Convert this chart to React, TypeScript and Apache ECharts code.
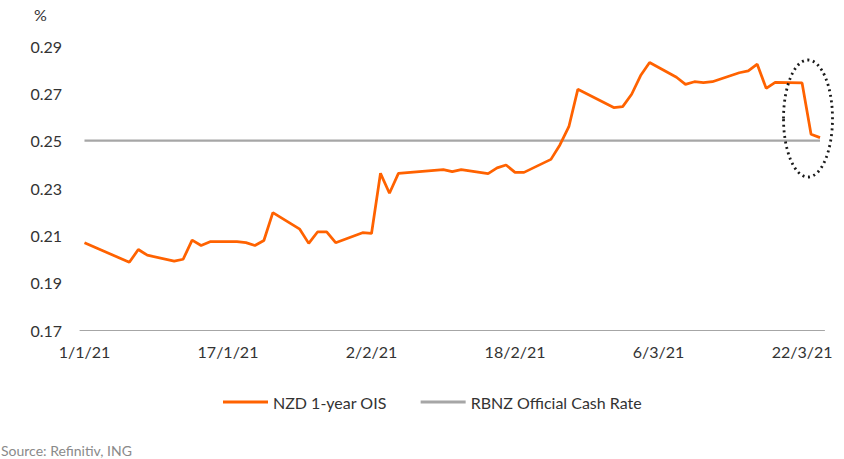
import React, { useEffect, useRef } from "react";
import * as echarts from "echarts";

// Calendar span of the x axis (daily categories)
const START_DATE = "2021-01-01";
const END_DATE = "2021-03-24";

// NZD 1-year OIS observations (business days)
const OIS_DATES = [
  "2021-01-01", "2021-01-06", "2021-01-07", "2021-01-08", "2021-01-11", "2021-01-12",
  "2021-01-13", "2021-01-14", "2021-01-15", "2021-01-18", "2021-01-19", "2021-01-20",
  "2021-01-21", "2021-01-22", "2021-01-25", "2021-01-26", "2021-01-27", "2021-01-28",
  "2021-01-29", "2021-02-01", "2021-02-02", "2021-02-03", "2021-02-04", "2021-02-05",
  "2021-02-10", "2021-02-11", "2021-02-12", "2021-02-15", "2021-02-16", "2021-02-17",
  "2021-02-18", "2021-02-19", "2021-02-22", "2021-02-23", "2021-02-24", "2021-02-25",
  "2021-03-01", "2021-03-02", "2021-03-03", "2021-03-04", "2021-03-05", "2021-03-08",
  "2021-03-09", "2021-03-10", "2021-03-11", "2021-03-12", "2021-03-15", "2021-03-16",
  "2021-03-17", "2021-03-18", "2021-03-19", "2021-03-22", "2021-03-23", "2021-03-24",
];
const OIS_VALUES = [
  0.2069, 0.1986, 0.204, 0.2016, 0.1991, 0.1999,
  0.208, 0.2057, 0.2073, 0.2073, 0.2069, 0.2057,
  0.2078, 0.2196, 0.2126, 0.2066, 0.2115, 0.2115,
  0.2069, 0.2111, 0.2108, 0.2362, 0.2278, 0.2362,
  0.2378, 0.2369, 0.2378, 0.2361, 0.2385, 0.2397,
  0.2366, 0.2366, 0.2421, 0.2482, 0.2559, 0.2717,
  0.264, 0.2644, 0.2696, 0.2775, 0.283, 0.2768,
  0.2738, 0.2749, 0.2745, 0.2749, 0.2787, 0.2795,
  0.2823, 0.2721, 0.2746, 0.2744, 0.2527, 0.2513,
];

// RBNZ Official Cash Rate (constant over the period)
const OCR_VALUE = 0.25;

// Y axis ticks
const Y_MIN = 0.17;
const Y_MAX = 0.29;
const Y_STEP = 0.02;

const SERIES_NAMES = ["NZD 1-year OIS", "RBNZ Official Cash Rate"];
const SOURCE_TEXT = "Source: Refinitiv, ING";

const FONT = "Lato, 'Open Sans', sans-serif";

function buildDays(): { keys: string[]; labels: string[] } {
  const keys: string[] = [];
  const labels: string[] = [];
  const s = new Date(START_DATE + "T00:00:00Z").getTime();
  const e = new Date(END_DATE + "T00:00:00Z").getTime();
  for (let t = s; t <= e; t += 86400000) {
    const d = new Date(t);
    const iso = d.toISOString().slice(0, 10);
    keys.push(iso);
    labels.push(
      `${d.getUTCDate()}/${d.getUTCMonth() + 1}/${String(d.getUTCFullYear()).slice(2)}`
    );
  }
  return { keys, labels };
}

export default function App() {
  const ref = useRef<HTMLDivElement>(null);

  useEffect(() => {
    if (!ref.current) return;
    const chart = echarts.init(ref.current, undefined, { renderer: "svg" });
    const { keys, labels } = buildDays();
    const oisMap: Record<string, number> = {};
    OIS_DATES.forEach((d, i) => (oisMap[d] = OIS_VALUES[i]));
    const oisData = keys.map((k) => (k in oisMap ? oisMap[k] : null));
    const ocrData = keys.map(() => OCR_VALUE);

    chart.setOption({
      animation: false,
      backgroundColor: "#ffffff",
      textStyle: { fontFamily: FONT },
      grid: { left: 80, right: 19.5, top: 46, bottom: 129 },
      legend: {
        left: 218,
        top: 389,
        icon: "rect",
        itemWidth: 45,
        itemHeight: 3,
        itemGap: 34,
        textStyle: { fontSize: 16, color: "#333333", fontFamily: FONT },
        data: SERIES_NAMES,
      },
      xAxis: {
        type: "category",
        data: labels,
        boundaryGap: true,
        axisLine: { lineStyle: { color: "#a6a6a6", width: 1 } },
        axisTick: {
          interval: 15,
          length: 6,
          lineStyle: { color: "#a6a6a6" },
        },
        axisLabel: {
          interval: 15,
          fontSize: 16,
          color: "#333333",
          margin: 13,
          fontFamily: FONT,
        },
        splitLine: { show: false },
      },
      yAxis: {
        type: "value",
        min: Y_MIN,
        max: Y_MAX,
        interval: Y_STEP,
        axisLine: { show: false },
        axisTick: { show: false },
        splitLine: { show: false },
        axisLabel: {
          fontSize: 16,
          color: "#333333",
          margin: 18,
          fontFamily: FONT,
          formatter: (v: number) => v.toFixed(2),
        },
      },
      series: [
        {
          name: SERIES_NAMES[0],
          type: "line",
          data: oisData,
          connectNulls: true,
          symbol: "none",
          z: 3,
          lineStyle: { color: "#FF6200", width: 2.75 },
          itemStyle: { color: "#FF6200" },
        },
        {
          name: SERIES_NAMES[1],
          type: "line",
          data: ocrData,
          symbol: "none",
          z: 2,
          lineStyle: { color: "#a6a6a6", width: 2.25 },
          itemStyle: { color: "#a6a6a6" },
        },
      ],
      graphic: [
        {
          type: "text",
          left: 34,
          top: 6,
          style: { text: "%", fontSize: 16, fill: "#333333", fontFamily: FONT },
        },
        {
          type: "text",
          left: 1,
          top: 443,
          style: { text: SOURCE_TEXT, fontSize: 14, fill: "#8a8a8a", fontFamily: FONT },
        },
        {
          type: "ellipse",
          shape: { cx: 808, cy: 118.5, rx: 24.5, ry: 58.5 },
          style: {
            fill: "none",
            stroke: "#1a1a1a",
            lineWidth: 2.8,
            lineDash: [2, 3.6],
          },
          z: 10,
        },
      ],
    });

    return () => chart.dispose();
  }, []);

  return (
    <div
      ref={ref}
      style={{ position: "absolute", left: 0, top: 0, width: 844, height: 459 }}
    />
  );
}
